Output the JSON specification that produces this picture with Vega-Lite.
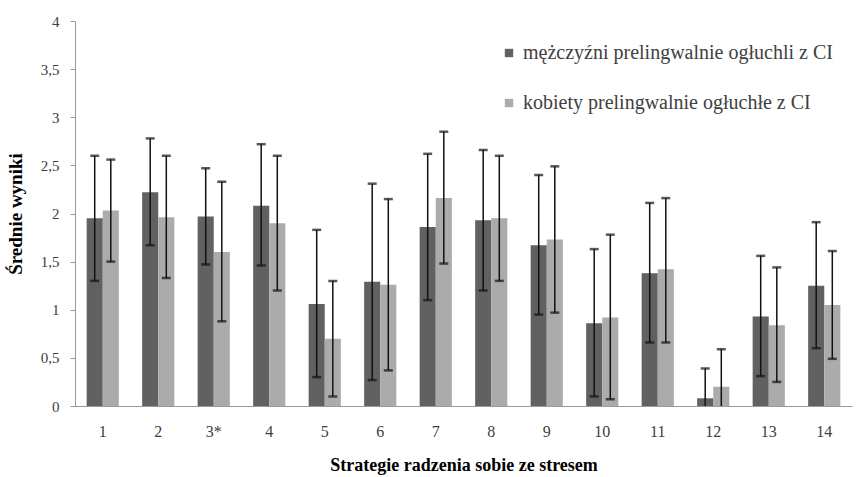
{
  "$schema": "https://vega.github.io/schema/vega-lite/v6.json",
  "autosize": {"type": "fit", "contains": "padding"},
  "width": 856,
  "height": 477,
  "padding": {"left": 6, "top": 14, "right": 4, "bottom": 3},
  "background": "white",
  "config": {
    "view": {"stroke": null},
    "font": "'Liberation Serif', 'Times New Roman', serif",
    "axis": {"labelFont": "'Liberation Serif', 'Times New Roman', serif", "titleFont": "'Liberation Serif', 'Times New Roman', serif"},
    "legend": {"labelFont": "'Liberation Serif', 'Times New Roman', serif"}
  },
  "data": {
    "values": [
      {"s": "1", "g": "mężczyźni prelingwalnie ogłuchli z CI", "m": 1.95, "lo": 1.3, "hi": 2.6},
      {"s": "1", "g": "kobiety prelingwalnie ogłuchłe z CI", "m": 2.03, "lo": 1.5, "hi": 2.56},
      {"s": "2", "g": "mężczyźni prelingwalnie ogłuchli z CI", "m": 2.22, "lo": 1.67, "hi": 2.78},
      {"s": "2", "g": "kobiety prelingwalnie ogłuchłe z CI", "m": 1.96, "lo": 1.33, "hi": 2.6},
      {"s": "3*", "g": "mężczyźni prelingwalnie ogłuchli z CI", "m": 1.97, "lo": 1.47, "hi": 2.47},
      {"s": "3*", "g": "kobiety prelingwalnie ogłuchłe z CI", "m": 1.6, "lo": 0.88, "hi": 2.33},
      {"s": "4", "g": "mężczyźni prelingwalnie ogłuchli z CI", "m": 2.08, "lo": 1.46, "hi": 2.72},
      {"s": "4", "g": "kobiety prelingwalnie ogłuchłe z CI", "m": 1.9, "lo": 1.2, "hi": 2.6},
      {"s": "5", "g": "mężczyźni prelingwalnie ogłuchli z CI", "m": 1.06, "lo": 0.3, "hi": 1.83},
      {"s": "5", "g": "kobiety prelingwalnie ogłuchłe z CI", "m": 0.7, "lo": 0.1, "hi": 1.3},
      {"s": "6", "g": "mężczyźni prelingwalnie ogłuchli z CI", "m": 1.29, "lo": 0.27, "hi": 2.31},
      {"s": "6", "g": "kobiety prelingwalnie ogłuchłe z CI", "m": 1.26, "lo": 0.37, "hi": 2.15},
      {"s": "7", "g": "mężczyźni prelingwalnie ogłuchli z CI", "m": 1.86, "lo": 1.1, "hi": 2.62},
      {"s": "7", "g": "kobiety prelingwalnie ogłuchłe z CI", "m": 2.16, "lo": 1.48, "hi": 2.85},
      {"s": "8", "g": "mężczyźni prelingwalnie ogłuchli z CI", "m": 1.93, "lo": 1.2, "hi": 2.66},
      {"s": "8", "g": "kobiety prelingwalnie ogłuchłe z CI", "m": 1.95, "lo": 1.3, "hi": 2.6},
      {"s": "9", "g": "mężczyźni prelingwalnie ogłuchli z CI", "m": 1.67, "lo": 0.95, "hi": 2.4},
      {"s": "9", "g": "kobiety prelingwalnie ogłuchłe z CI", "m": 1.73, "lo": 0.97, "hi": 2.49},
      {"s": "10", "g": "mężczyźni prelingwalnie ogłuchli z CI", "m": 0.86, "lo": 0.1, "hi": 1.63},
      {"s": "10", "g": "kobiety prelingwalnie ogłuchłe z CI", "m": 0.92, "lo": 0.07, "hi": 1.78},
      {"s": "11", "g": "mężczyźni prelingwalnie ogłuchli z CI", "m": 1.38, "lo": 0.66, "hi": 2.11},
      {"s": "11", "g": "kobiety prelingwalnie ogłuchłe z CI", "m": 1.42, "lo": 0.66, "hi": 2.16},
      {"s": "12", "g": "mężczyźni prelingwalnie ogłuchli z CI", "m": 0.08, "lo": 0.0, "hi": 0.39},
      {"s": "12", "g": "kobiety prelingwalnie ogłuchłe z CI", "m": 0.2, "lo": 0.0, "hi": 0.59},
      {"s": "13", "g": "mężczyźni prelingwalnie ogłuchli z CI", "m": 0.93, "lo": 0.31, "hi": 1.56},
      {"s": "13", "g": "kobiety prelingwalnie ogłuchłe z CI", "m": 0.84, "lo": 0.25, "hi": 1.44},
      {"s": "14", "g": "mężczyźni prelingwalnie ogłuchli z CI", "m": 1.25, "lo": 0.6, "hi": 1.91},
      {"s": "14", "g": "kobiety prelingwalnie ogłuchłe z CI", "m": 1.05, "lo": 0.49, "hi": 1.61}
    ]
  },
  "encoding": {
    "x": {
      "field": "s", "type": "nominal", "sort": null,
      "scale": {"paddingInner": 0.42, "paddingOuter": 0.21},
      "axis": {
        "title": "Strategie radzenia sobie ze stresem",
        "titleFontSize": 18, "titleFontWeight": "bold",
        "titleColor": "#000000", "titlePadding": 17,
        "labelFontSize": 16, "labelColor": "#404040",
        "labelAngle": 0, "labelPadding": 17,
        "ticks": false, "domainColor": "#9a9a9a", "domainWidth": 1, "grid": false
      }
    },
    "xOffset": {
      "field": "g", "type": "nominal",
      "sort": ["mężczyźni prelingwalnie ogłuchli z CI", "kobiety prelingwalnie ogłuchłe z CI"],
      "scale": {"paddingInner": 0, "paddingOuter": 0}
    }
  },
  "layer": [
    {
      "mark": {"type": "bar"},
      "encoding": {
        "y": {
          "field": "m", "type": "quantitative",
          "scale": {"domain": [0, 4], "nice": false},
          "axis": {
            "title": "Średnie wyniki", "values": [0, 0.5, 1, 1.5, 2, 2.5, 3, 3.5, 4],
            "format": ",.1~f", "labelExpr": "replace(datum.label, '.', ',')",
            "titleFontSize": 19, "titleFontWeight": "bold",
            "titleColor": "#000000", "titlePadding": 15,
            "labelFontSize": 15, "labelColor": "#404040",
            "labelPadding": 11, "tickSize": 5, "tickColor": "#9a9a9a",
            "domainColor": "#9a9a9a", "grid": false
          }
        },
        "color": {
          "field": "g", "type": "nominal",
          "sort": ["mężczyźni prelingwalnie ogłuchli z CI", "kobiety prelingwalnie ogłuchłe z CI"],
          "scale": {"range": ["#616161", "#ababab"]},
          "legend": {
            "title": null, "orient": "none", "legendX": 424, "legendY": 22,
            "symbolType": "square", "symbolSize": 70, "symbolStrokeWidth": 0,
            "labelFontSize": 20, "labelColor": "#404040",
            "labelLimit": 500, "rowPadding": 30, "labelOffset": 4
          }
        }
      }
    },
    {
      "mark": {"type": "rule", "color": "#111111", "strokeWidth": 1.5},
      "encoding": {
        "y": {"field": "lo", "type": "quantitative"},
        "y2": {"field": "hi"}
      }
    },
    {
      "mark": {"type": "tick", "color": "#111111", "thickness": 2.5, "size": 9},
      "encoding": {"y": {"field": "hi", "type": "quantitative"}}
    },
    {
      "transform": [{"filter": "datum.lo > 0"}],
      "mark": {"type": "tick", "color": "#111111", "thickness": 2.5, "size": 9},
      "encoding": {"y": {"field": "lo", "type": "quantitative"}}
    }
  ]
}
